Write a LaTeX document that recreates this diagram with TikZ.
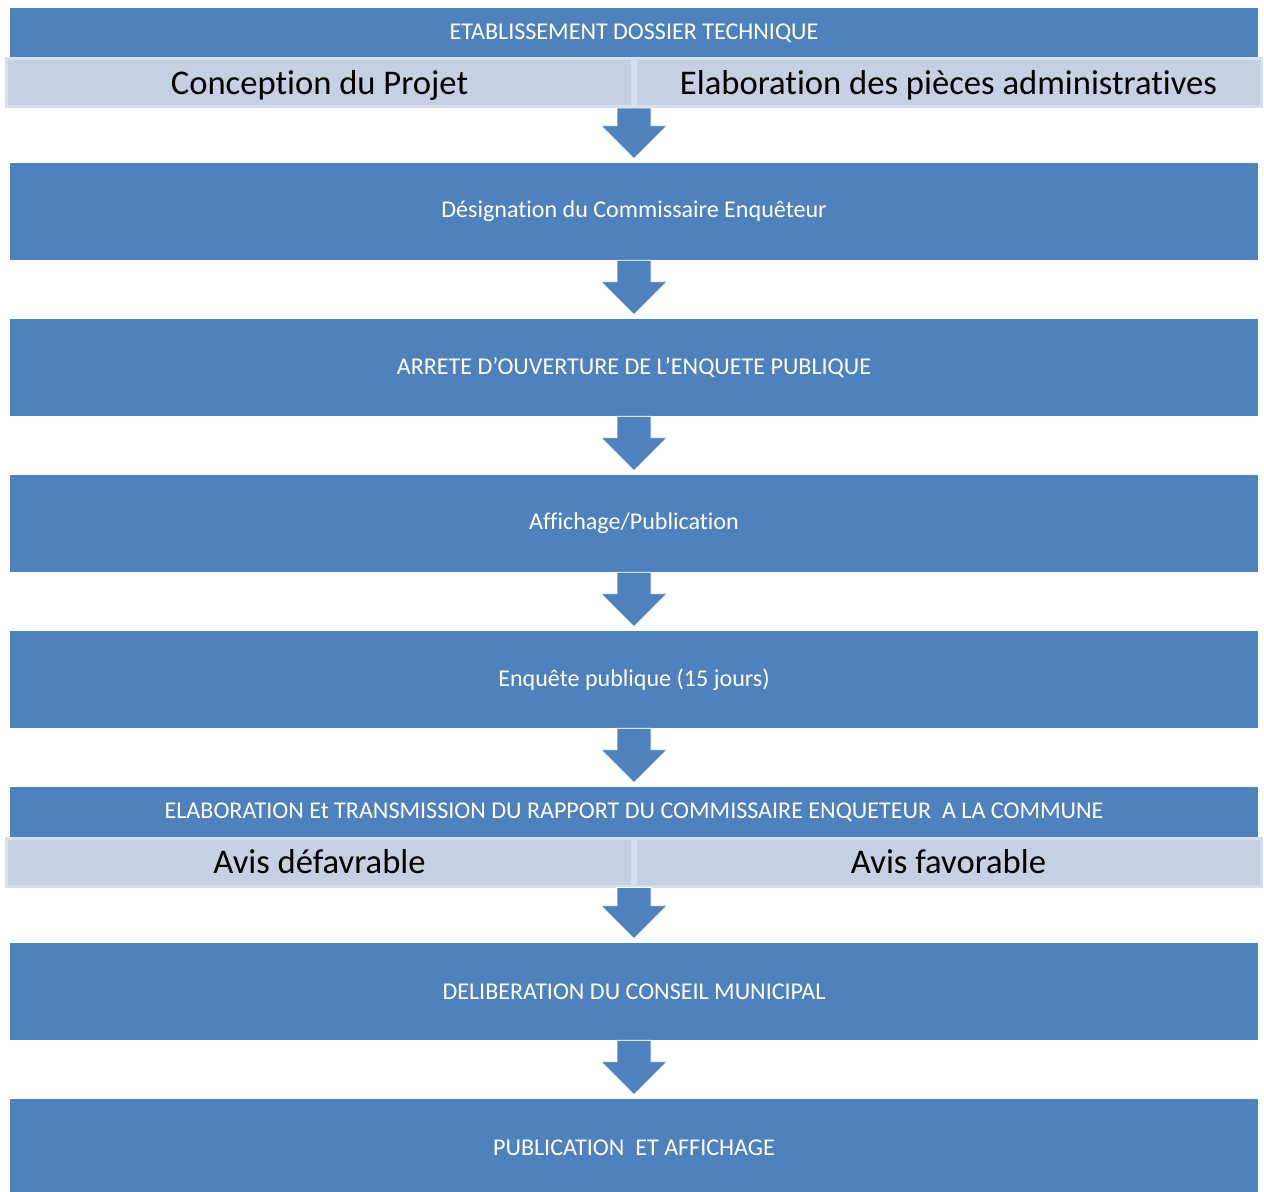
\documentclass[tikz,border=0pt]{standalone}
\usepackage{fontspec}
\setmainfont[Ligatures=NoCommon]{Carlito}
\usetikzlibrary{calc}

\definecolor{stepblue}{RGB}{79,129,189}
\definecolor{choicefill}{RGB}{197,208,227}
\definecolor{choiceline}{RGB}{214,222,236}

% block arrow from the bottom of #1 down to the top of #2
\newcommand{\flowarrow}[2]{%
  \filldraw[stepblue, draw=white, line width=0.4pt]
    ($(#1.south -| #2.north)+(-17,0)$) -- ($(#2.north)+(-17,37)$)
    -- ($(#2.north)+(-33,37)$) -- ($(#2.north)+(0,4)$)
    -- ($(#2.north)+(33,37)$) -- ($(#2.north)+(17,37)$)
    -- ($(#1.south -| #2.north)+(17,0)$) -- cycle;}

\begin{document}
\begin{tikzpicture}[
    x=0.02cm, y=0.02cm,
    stepbox/.style={fill=stepblue, text=white, inner sep=0pt,
                    minimum width=24.96cm, minimum height=1.94cm,
                    font=\fontsize{13.7}{16}\selectfont},
    headbox/.style={stepbox, minimum height=1cm},
    choicebox/.style={fill=choicefill, draw=choiceline, line width=0.06cm,
                      inner sep=0pt, minimum width=12.52cm, minimum height=0.96cm,
                      text depth=0.02cm, font=\fontsize{19.7}{23}\selectfont}
  ]
  \useasboundingbox (0,0) rectangle (1264,-1192);

  % Technical file
  \node[headbox] (dossier) at (634,-33) {ETABLISSEMENT DOSSIER TECHNIQUE};
  \node[choicebox] (conception) at (319.5,-82.5) {Conception du Projet};
  \node[choicebox] (pieces) at (948.5,-82.5) {Elaboration des pièces administratives};

  % Main steps
  \node[stepbox] (designation) at (634,-211.5) {Désignation du Commissaire Enquêteur};
  \node[stepbox] (arrete) at (634,-367.5) {ARRETE D’OUVERTURE DE L’ENQUETE PUBLIQUE};
  \node[stepbox] (affichage) at (634,-523.5) {Affichage/Publication};
  \node[stepbox] (enquete) at (634,-679.5) {Enquête publique (15 jours)};

  % Report and opinions
  \node[headbox] (rapport) at (634,-812) {ELABORATION Et TRANSMISSION DU RAPPORT DU COMMISSAIRE ENQUETEUR\ \ A LA COMMUNE};
  \node[choicebox] (defavorable) at (319.5,-862) {Avis défavrable};
  \node[choicebox] (favorable) at (948.5,-862) {Avis favorable};

  % Council decision
  \node[stepbox] (deliberation) at (634,-991.5) {DELIBERATION DU CONSEIL MUNICIPAL};
  \node[stepbox] (publication) at (634,-1147.5) {PUBLICATION\ \ ET AFFICHAGE};

  % Arrows
  \flowarrow{conception}{designation}
  \flowarrow{designation}{arrete}
  \flowarrow{arrete}{affichage}
  \flowarrow{affichage}{enquete}
  \flowarrow{enquete}{rapport}
  \flowarrow{defavorable}{deliberation}
  \flowarrow{deliberation}{publication}
\end{tikzpicture}
\end{document}
